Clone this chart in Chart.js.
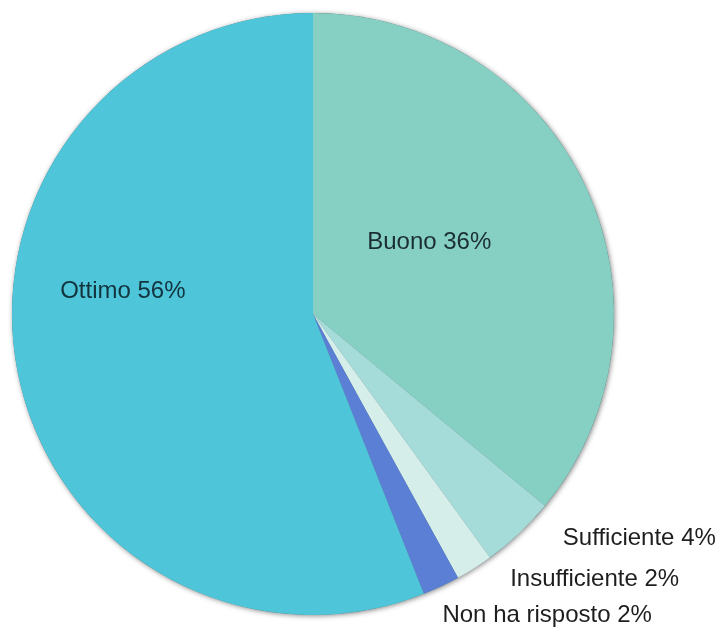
<!DOCTYPE html>
<html>
<head>
<meta charset="utf-8">
<script src="https://cdn.jsdelivr.net/npm/chart.js@4/dist/chart.umd.min.js"></script>
<style>
  html, body { margin: 0; padding: 0; background: #ffffff; }
  #wrap { width: 722px; height: 628px; position: relative; }
</style>
</head>
<body>
<div id="wrap"><canvas id="pie"></canvas></div>
<script>
// Survey answers, clockwise from twelve o'clock
const categories = ['Buono', 'Sufficiente', 'Insufficiente', 'Non ha risposto', 'Ottimo'];
const percentages = [36, 4, 2, 2, 56];
const sliceColors = ['#86cfc3', '#a5dcda', '#d5eeea', '#5a7fd5', '#4fc5d9'];

// Label placement: offset from the pie centre (in radii) plus text colour
const labelLayout = [
  { dx: 0.18, dy: -0.239, color: '#1b2e34' },  // Buono
  { dx: 0.83, dy: 0.744, color: '#1e1e1e' },   // Sufficiente
  { dx: 0.655, dy: 0.880, color: '#1e1e1e' },  // Insufficiente
  { dx: 0.43, dy: 1.0, color: '#1e1e1e' },     // Non ha risposto
  { dx: -0.84, dy: -0.076, color: '#12343e' }  // Ottimo
];

// Soft drop shadow under the whole disc
const discShadow = {
  id: 'discShadow',
  beforeDatasetsDraw(chart) {
    const arc = chart.getDatasetMeta(0).data[0];
    if (!arc) return;
    const ctx = chart.ctx;
    ctx.save();
    ctx.shadowColor = 'rgba(60,60,60,0.6)';
    ctx.shadowBlur = 5;
    ctx.shadowOffsetX = 1;
    ctx.shadowOffsetY = 1;
    ctx.fillStyle = '#5f8084';
    ctx.beginPath();
    ctx.arc(arc.x, arc.y, arc.outerRadius, 0, Math.PI * 2);
    ctx.fill();
    ctx.restore();
  }
};

// Category name + percentage drawn as text
const sliceLabels = {
  id: 'sliceLabels',
  afterDatasetsDraw(chart) {
    const meta = chart.getDatasetMeta(0);
    const ctx = chart.ctx;
    ctx.save();
    ctx.font = '24px "Liberation Sans", Arial, sans-serif';
    ctx.textAlign = 'left';
    ctx.textBaseline = 'middle';
    meta.data.forEach((arc, i) => {
      const r = arc.outerRadius;
      const lay = labelLayout[i];
      const txt = categories[i] + ' ' + percentages[i] + '%';
      ctx.fillStyle = lay.color;
      ctx.fillText(txt, arc.x + lay.dx * r, arc.y + lay.dy * r);
    });
    ctx.restore();
  }
};

new Chart(document.getElementById('pie'), {
  type: 'pie',
  data: {
    labels: categories,
    datasets: [{
      data: percentages,
      backgroundColor: sliceColors,
      borderWidth: 0
    }]
  },
  options: {
    responsive: true,
    maintainAspectRatio: false,
    animation: false,
    rotation: 0,
    layout: { padding: { left: 12, top: 13, right: 108, bottom: 13 } },
    plugins: {
      legend: { display: false },
      tooltip: { enabled: false }
    }
  },
  plugins: [discShadow, sliceLabels]
});
</script>
</body>
</html>
